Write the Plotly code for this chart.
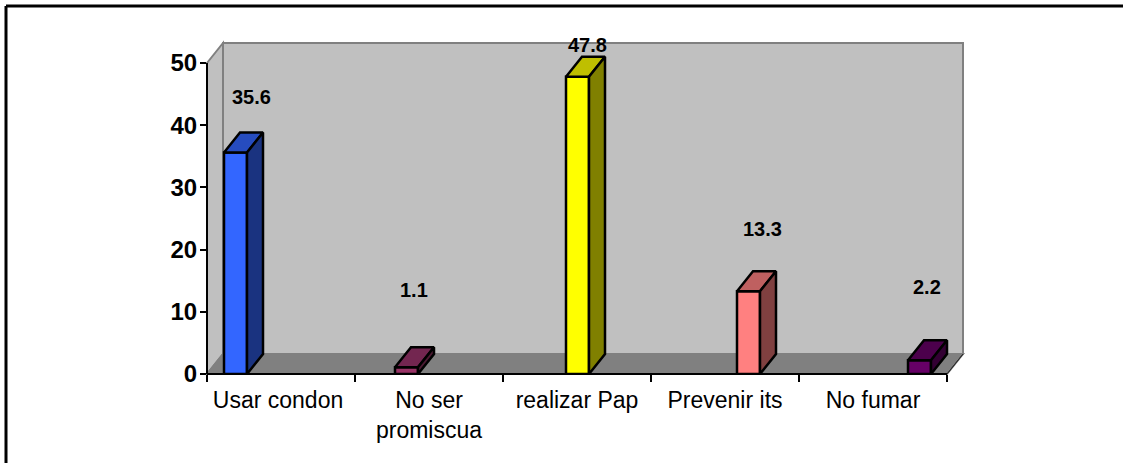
import plotly.graph_objects as go

categories = ["Usar condon", "No ser<br>promiscua", "realizar Pap", "Prevenir its", "No fumar"]
category_centers = [0.48, 1.5, 2.5, 3.5, 4.5]
values = [35.6, 1.1, 47.8, 13.3, 2.2]
y_ticks = [0, 10, 20, 30, 40, 50]
front_colors = ["#3366FF", "#993366", "#FFFF00", "#FF8080", "#660066"]
top_colors = ["#264CBF", "#732650", "#BFBF00", "#BF6060", "#4C004C"]
side_colors = ["#1A3380", "#4D1A33", "#808000", "#804040", "#330033"]
label_rise = [36, 57, 12, 42, 53]  # pixels above the back edge of each bar top
label_shift = [0, -9, -6, -2, -9]  # pixels sideways from the back edge centre

# Pixel geometry of the oblique projection
W, H = 1123, 463
AXIS_L, AXIS_R, AXIS_T, AXIS_B = 207, 947, 63, 374  # front plane of the box
DEPTH_X, DEPTH_Y = 16, 20
N = len(categories)
YMAX = y_ticks[-1]
PX_X = (AXIS_R - AXIS_L) / N
PX_Y = (AXIS_B - AXIS_T) / YMAX
DX = DEPTH_X / PX_X
DY = DEPTH_Y / PX_Y
BAR_W = 23 / PX_X
BAR_START = 17 / PX_X
BAR_STEP = 171 / PX_X
X_TOP = N + DX
Y_TOP = YMAX + DY
EDGE = 2.5

fig = go.Figure()


def poly_path(points):
    return "M" + " L".join(f"{x / X_TOP:.5f},{y / Y_TOP:.5f}" for x, y in points) + " Z"


def wall(points, fill, line, width=2):
    """Add a polygon given in axis units as a paper-referenced shape under the traces."""
    fig.add_shape(type="path", xref="paper", yref="paper", path=poly_path(points),
                  fillcolor=fill, line=dict(color=line, width=width), layer="below")


def face(xs, ys, fill):
    fig.add_trace(go.Scatter(
        x=xs, y=ys, mode="lines", fill="toself", fillcolor=fill,
        line=dict(color="#000000", width=EDGE), hoverinfo="skip", showlegend=False,
    ))


# Walls and floor behind the bars
wall([(0, 0), (DX, DY), (DX, Y_TOP), (0, YMAX)], "#C0C0C0", "#808080")
wall([(DX, DY), (X_TOP, DY), (X_TOP, Y_TOP), (DX, Y_TOP)], "#C0C0C0", "#808080")
wall([(0, 0), (N, 0), (X_TOP, DY), (DX, DY)], "#808080", "#808080")
wall([(N, 0), (X_TOP, DY)], "rgba(0,0,0,0)", "#303030", 1)

# Bars: front face as a bar trace, top and side faces offset by the depth vector
lefts = [BAR_START + i * BAR_STEP for i in range(N)]
fig.add_trace(go.Bar(
    x=[l + BAR_W / 2 for l in lefts], y=values, width=BAR_W,
    marker=dict(color=front_colors, line=dict(color="#000000", width=EDGE)),
    hoverinfo="skip", showlegend=False,
))
for l, v, top, side in zip(lefts, values, top_colors, side_colors):
    r = l + BAR_W
    face([l, r, r + DX, l + DX, l], [v, v, v + DY, v + DY, v], top)
    face([r, r + DX, r + DX, r, r], [0, DY, v + DY, v, 0], side)

# Value labels
for l, v, rise, shift in zip(lefts, values, label_rise, label_shift):
    fig.add_annotation(
        x=l + BAR_W / 2 + DX, y=v + DY, text=f"{v:.1f}", showarrow=False,
        xshift=shift, yshift=rise, xanchor="center", yanchor="middle",
        font=dict(family="Liberation Sans", size=20, color="#000000", weight="bold"),
    )

# Axis lines stop at the front plane, short of the plot area edges
axis_line = dict(type="line", xref="paper", yref="paper", line=dict(color="#000000", width=2), layer="above")
fig.add_shape(x0=0, x1=N / X_TOP, y0=0, y1=0, **axis_line)
fig.add_shape(x0=0, x1=0, y0=0, y1=YMAX / Y_TOP, **axis_line)

# Frame along the top and left edges of the page
plot_w = W - AXIS_L - (W - AXIS_R - DEPTH_X)
plot_h = AXIS_B - (AXIS_T - DEPTH_Y)
left_edge = (6 - AXIS_L) / plot_w
top_edge = (AXIS_B - 6) / plot_h
right_edge = (W - AXIS_L) / plot_w
bottom_edge = (AXIS_B - H) / plot_h
frame = dict(type="line", xref="paper", yref="paper", line=dict(color="#000000", width=3), layer="below")
fig.add_shape(x0=left_edge, x1=right_edge, y0=top_edge, y1=top_edge, **frame)
fig.add_shape(x0=left_edge, x1=left_edge, y0=bottom_edge, y1=top_edge, **frame)

fig.update_layout(
    width=W, height=H,
    margin=dict(l=AXIS_L, r=W - AXIS_R - DEPTH_X, t=AXIS_T - DEPTH_Y, b=H - AXIS_B, autoexpand=False),
    paper_bgcolor="#FFFFFF", plot_bgcolor="rgba(0,0,0,0)", showlegend=False,
    xaxis=dict(
        range=[0, X_TOP], tickmode="array",
        tickvals=category_centers, ticktext=categories,
        ticks="", showgrid=False, zeroline=False, showline=False,
        ticklabelstandoff=10,
        tickfont=dict(family="Liberation Sans", size=23, color="#000000"),
        minor=dict(tickmode="array", tickvals=list(range(N + 1)), ticks="outside",
                   ticklen=7, tickwidth=2, tickcolor="#000000", showgrid=False),
    ),
    yaxis=dict(
        range=[0, Y_TOP], tickmode="array", tickvals=y_ticks,
        ticks="outside", ticklen=6, tickwidth=2, tickcolor="#000000",
        showgrid=False, zeroline=False, showline=False, ticklabelstandoff=-2,
        tickfont=dict(family="Liberation Sans", size=24, color="#000000", weight="bold"),
    ),
)

fig.write_html("out.html", config={"displayModeBar": False})
